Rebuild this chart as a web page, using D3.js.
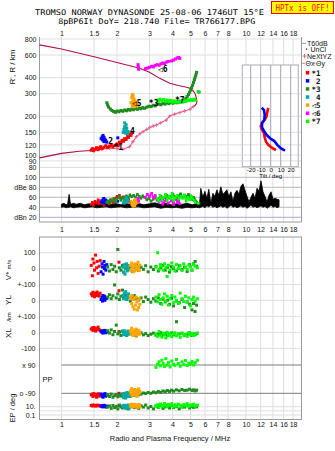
<!DOCTYPE html>
<html><head><meta charset="utf-8">
<script src="https://cdn.jsdelivr.net/npm/d3@7"></script>
<style>
body{margin:0;background:#fff}
svg{display:block}
</style></head><body>
<svg id="c" width="335" height="451"></svg>
<script>
// ---------------- DATA ----------------
const titleLine1 = "TROMSO NORWAY   DYNASONDE 25-08-06 1746UT 15°E";
const titleLine2 = "8pBP6It DoY= 218.740 File= TR766177.BPG";
const freqTicks = [1,1.5,2,3,4,5,6,7,8,10,12,14,16,18];
const heightTicks = [800,600,400,300,200,150,120,100,90,80];
const dbTicks = [100,80,60,40,20];
const dbTickLabels = ["100","dBe 80","60","40","dBn 20"];
const tiltTicks = [-20,-10,0,10,20];
const modeLabels = ["*1","2","*3","4","◁5","◁6","*7"];
const legendLabels = ["*1"," 2","*3"," 4","◁5","◁6","*7"];
const modeColors = ["#ff0000","#0000ff","#1e8c1e","#00a8a8","#ffa500","#ff00ff","#00ff00"];
const modeLabelFreq = [2.03,1.85,3.16,2.42,2.56,3.54,4.38];
const modeLabelHeight = [115,127,254,152,255,465,268];

// top panel echoes (frequency MHz, virtual height km, amplitude dB)
const m1Freq = [1.45,1.47,1.49,1.52,1.55,1.58,1.6,1.63,1.66,1.7,1.74,1.78,1.82,1.86,1.9,1.95,2.0,2.03,2.06,2.1,2.13,2.17,2.2,2.24,2.28,2.31,2.35,2.38,2.4];
const m1Height = [109,112,108,111,114,110,113,116,112,115,118,114,117,120,116,119,122,118,126,124,130,128,134,132,140,137,145,142,148];
const m1Amp = [46,50,44,52,48,55,47,53,50,44,49,52,47,55,50,58,62,60,64,57,59,61,55,58,54,56,52,50,49];
const m2Freq = [1.64,1.66,1.68,1.7,1.72,1.74,1.76,1.73,1.7,1.67,null,2.02];
const m2Height = [134,138,142,137,132,128,126,130,127,131,null,136];
const m2Amp = [50,54,57,52,48,55,50,53,58,49,null,52];
const m3Freq = [1.76,1.78,1.8,1.84,1.88,1.92,1.96,2.0,2.05,2.1,2.15,2.2,2.25,2.3,2.35,2.4,2.46,2.52,2.58,2.64,2.7,2.76,2.82,2.9,2.98,3.06,3.14,3.22,3.3,3.38,3.46,3.55,3.64,3.73,3.82,3.92,4.02,4.12,4.22,4.32,4.42,4.52,4.62,4.72,4.8,4.88,4.95,5.02,5.08,5.14,5.2,5.25,5.3,5.35,5.4,null,5.57];
const m3Height = [255,245,236,228,222,218,215,220,217,222,219,224,221,226,223,228,225,230,227,232,229,234,231,236,240,238,244,241,247,250,246,252,249,255,251,256,253,258,255,262,258,266,262,275,285,296,308,320,335,350,368,385,402,420,440,null,309];
const m3Amp = [50,53,48,55,52,58,50,56,62,54,60,57,63,59,65,61,64,60,66,62,58,63,60,55,58,52,56,60,54,58,62,57,60,64,59,62,66,61,58,63,67,60,64,58,62,66,60,63,59,55,60,57,54,52,50,null,48];
const m4Freq = [2.2,2.24,2.2,2.26,2.18,2.24,2.3,2.16,2.22,2.28];
const m4Height = [178,172,166,162,158,155,152,150,148,146];
const m4Amp = [50,55,48,58,52,60,54,49,56,51];
const m5Freq = [2.42,2.45,2.4,2.48,2.44,2.52,2.38,2.47,2.55,2.42,2.5,2.6];
const m5Height = [296,288,280,272,265,260,255,250,246,242,238,244];
const m5Amp = [44,50,46,54,42,48,52,45,56,47,43,50];
const m6Freq = [2.6,2.61,2.62,null,2.85,2.92,3.0,3.08,3.15,3.22,3.3,3.38,3.46,3.54,3.62,3.7,3.78,3.95,4.05,4.15,4.25,4.32,4.38];
const m6Height = [505,485,465,null,470,475,482,490,485,498,505,500,512,520,515,528,535,540,548,560,570,575,565];
const m6Amp = [55,58,52,null,60,66,62,68,58,64,55,50,58,46,52,57,48,54,45,59,50,56,47];
const m7Freq = [3.3,3.36,3.42,3.5,3.58,3.66,3.74,3.82,3.9,3.98,4.06,4.15,4.24,4.34,4.44,4.54,4.64,4.74,4.84,4.94,5.04,5.14,5.24,5.3,null,5.5];
const m7Height = [268,262,272,265,270,262,268,260,266,258,264,258,262,256,262,258,264,262,268,266,270,266,272,268,null,312];
const m7Amp = [58,52,64,55,60,66,54,62,57,68,53,60,64,56,62,58,65,52,60,55,62,57,54,50,null,48];

// profile curves
const topsideFreq = [0.76,1.0,1.5,2.0,2.65,3.0,3.41,3.86,4.3,4.7,4.97,5.15,5.3,5.39,5.42,5.38,5.28,5.17];
const topsideHeight = [720,668,582,525,473,440,395,362,348,338,331,318,300,276,262,250,242,238];
const bottomsideFreq = [0.76,1.0,1.25,1.51];
const bottomsideHeight = [95,103,107,109];
const nextyzFreq = [1.51,1.65,1.82,2.0,2.15,2.34,2.44,2.55,2.66,2.77,2.9,3.01,3.14,3.27,3.45,3.7,3.86,4.1,4.38,4.65,4.97,5.17];
const nextyzHeight = [108,111,113,112,111,116,127,139,146,152,158,164,168,171,178,187,201,208,214,220,227,238];

// tilt inset
const tiltXHeight = [233,217,201,190,179,168,159,148,137,127,120,114,109];
const tiltX = [-2.4,-3.4,-4,-5.7,-8.4,-10,-9,-6.7,-6,-4.7,-2.4,1,5.3];
const tiltYHeight = [233,224,206,187,177,164,154,143,135,129,120,113,108];
const tiltY = [-9,-6.7,-6,-6.4,-8.7,-8.7,-6.7,-4,-0.7,3.3,6.6,10,14.3];

// T60dB noise trace
const t60Freq = [1.0,1.03,1.06,1.08,1.1,1.12,1.16,1.2,1.27,1.33,1.4,1.47,1.55,1.65,1.75,1.85,1.95,2.1,2.25,2.4,2.6,2.8,3.0,3.2,3.45,3.7,3.95,4.2,4.5,4.8,5.1,5.4,5.6,
  5.69,5.84,5.99,6.14,6.29,6.45,6.62,6.78,6.96,7.13,7.31,7.5,7.69,7.88,8.08,8.29,8.5,8.71,8.94,9.16,9.39,9.63,9.88,10.13,10.38,10.65,10.92,11.19,11.48,11.77,12.06,12.37,12.68,13.0,13.34,13.67,14.02,14.38,14.74,15.11];
const t60Lo = [40,41,39,40,40,41,39,40,41,39,40,41,39,40,41,39,40,41,39,40,41,39,40,41,38,40,39,40,38,40,39,40,39,
  40,42,39,43,41,44,40,42,39,41,43,40,42,38,41,44,40,42,39,41,43,40,42,38,41,44,40,42,39,41,43,40,42,38,41,44,40,42,39,41];
const t60Hi = [46,48,45,47,66,46,48,46,48,45,47,46,48,45,47,46,48,45,47,46,48,45,47,49,46,48,45,47,46,48,45,47,46,
  78,60,72,58,76,48,68,62,75,64,81,66,70,75,62,71,52,68,74,66,82,87,74,62,51,60,68,58,78,72,93,71,62,51,64,71,56,58,56,55];

// lower panel: V* (m/s), YL (km), XL (km), PP (deg), EP (deg)
const m1BotFreq = [1.45,1.47,1.48,1.5,1.51,1.53,1.55,1.56,1.58,1.6,1.62,2.05];
const m1Vstar = [20,-45,60,35,-10,85,5,45,-30,15,50,40];
const m1YL = [40,28,50,35,22,45,30,52,38,26,44,60];
const m1XL = [20,28,12,30,22,8,25,16,32,18,10,5];
const m1PP = [-100,-95,-110,-92,-105,-98,-115,-100,-93,-108,-96,-90];
const m1EP = [20,15,25,18,22,14,19,24,16,21,17,18];
const m2BotFreq = [1.64,1.66,1.67,1.68,1.7,1.71,1.72,1.74,1.76];
const m2Vstar = [-20,30,10,-35,45,0,20,-10,25];
const m2YL = [5,20,-5,30,10,25,0,15,12];
const m2XL = [5,0,10,-5,8,2,12,-3,4];
const m2PP = [-95,-110,-100,-115,-98,-105,-92,-108,-100];
const m2EP = [12,18,9,15,22,11,16,8,14];
const m3BotFreq = [1.78,1.82,1.86,1.9,1.94,1.98,2.02,2.06,2.1,2.14,2.18,2.22,2.26,2.3,2.36,2.42,2.48,2.55,2.62,2.7,2.78,2.86,2.95,3.05,3.15,3.25,3.35,3.45,3.55,3.65,3.75,3.85,3.95,4.05,4.2,4.35,4.5,4.65,4.8,4.95,5.1,5.2,5.3,5.4];
const m3Vstar = [10,-15,25,-5,15,-20,120,5,-10,20,-25,0,15,-8,12,-18,5,22,-12,8,-5,18,-20,10,-6,14,-15,4,20,-10,8,-22,12,0,-14,18,-6,10,-18,25,-10,30,45,15];
const m3YL = [20,35,10,28,96,15,40,5,25,64,12,30,8,22,-5,18,30,10,2,15,-8,20,5,-12,10,-5,15,-20,8,-10,0,-25,12,-35,-5,-15,5,-45,-10,-25,-60,-20,-70,-30];
const m3XL = [10,-5,15,-15,5,45,-10,0,-20,8,-12,-5,-18,2,-8,-15,5,-22,-10,-3,-16,-8,-20,-12,-5,-18,-10,-2,-15,-8,-20,-12,-4,-16,66,-10,-6,-18,-12,-4,-20,-10,-15,-8];
const m3PP = [-100,-110,-95,-115,-105,-98,-112,-102,-108,-95,-118,-100,-106,-92,-110,-98,-104,-90,-100,-95,-88,-92,-85,-90,-82,-86,-78,-84,-75,-80,-72,-78,-70,-76,-68,-74,-66,-72,-70,-64,-72,-68,-75,-70];
const m3EP = [8,15,4,20,6,12,3,25,9,5,18,7,14,3,10,22,6,12,4,16,8,25,5,11,3,15,7,20,4,9,13,5,18,6,10,3,14,8,22,5,12,7,16,9];
const m4BotFreq = [2.15,2.17,2.19,2.21,2.23,2.25,2.27,2.29,2.31,2.33];
const m4Vstar = [10,-20,25,-35,5,30,-15,15,-5,20];
const m4YL = [30,10,45,20,54,5,35,15,40,25];
const m4XL = [5,-15,10,-8,0,-20,-5,8,-12,2];
const m4PP = [-95,-115,-90,-105,-120,-100,-85,-110,-98,-108];
const m4EP = [15,6,22,10,4,18,8,25,12,5];
const m5BotFreq = [2.36,2.38,2.4,2.42,2.44,2.46,2.48,2.5,2.52,2.54,2.56,2.58,2.6,2.62,2.64,2.66];
const m5Vstar = [20,-10,35,5,-20,25,10,-15,30,0,15,-5,40,10,-12,22];
const m5YL = [25,10,-20,30,-40,5,-55,15,-30,20,-10,-60,0,-45,12,-25];
const m5XL = [10,-5,25,-15,5,-20,15,-10,0,20,-18,8,-8,12,-12,2];
const m5PP = [-75,-95,-60,-105,-85,-70,-100,-65,-90,-80,-110,-72,-95,-62,-88,-78];
const m5EP = [30,12,40,18,8,25,35,10,20,15,28,6,22,14,32,9];
const m7BotFreq = [3.25,3.32,3.38,3.44,3.5,3.56,3.62,3.68,3.74,3.8,3.88,3.96,4.04,4.12,4.2,4.3,4.4,4.5,4.6,4.7,4.8,4.9,5.0,5.1,5.2,5.3,5.45];
const m7Vstar = [10,100,-5,25,15,-10,30,5,-50,20,-8,35,10,-15,25,0,18,-12,30,8,-5,22,12,-10,28,15,5];
const m7YL = [20,-10,35,5,-25,15,40,-5,25,-30,10,30,-15,20,0,-20,45,10,-8,25,-12,15,-35,5,20,-5,10];
const m7XL = [-10,-25,5,-18,-30,-5,-15,-35,0,-20,-8,-28,-12,-3,-22,-10,-32,-6,-18,-14,-25,-2,-16,-8,-20,-12,-4];
const m7PP = [75,95,110,85,120,100,80,130,90,105,78,115,95,88,125,100,82,110,92,118,86,102,96,112,90,104,120];
const m7EP = [15,30,8,45,20,12,60,25,10,35,18,50,9,28,14,40,22,7,32,16,55,11,26,19,38,13,24];

// ---------------- DRAW ----------------
const svg = d3.select("#c");
const SANS = "Liberation Sans, Arial, sans-serif";
const MONO = "DejaVu Sans Mono, monospace";
const X0 = 39.5, X1 = 301.5;
const x = d3.scaleLog().domain([0.76,20]).range([X0,X1]);
const yH = d3.scaleLog().domain([800,100]).range([39,155]);
const yDb = d3.scaleLinear().domain([100,20]).range([177.3,217.3]);
const yV = d3.scaleLinear().domain([100,-100]).range([252.7,284.5]);
const yYL = d3.scaleLinear().domain([100,-100]).range([284.3,316.3]);
const yXL = d3.scaleLinear().domain([100,-100]).range([316.3,348.3]);
const yPP = d3.scaleLinear().domain([90,-90]).range([365,393.3]);
const yEP = d3.scaleLog().domain([10,0.1]).range([406.7,415]);
const xT = d3.scaleLinear().domain([-28.4,27.6]).range([242.3,298.3]);

const TOP0 = 37, TOP1 = 222, BOT0 = 237, BOT1 = 419.5;

// grids
const grid = svg.append("g").attr("stroke","#dedede").attr("stroke-width",1);
grid.selectAll(null).data(freqTicks).join("line")
  .attr("x1",d=>x(d)).attr("x2",d=>x(d)).attr("y1",TOP0).attr("y2",TOP1);
grid.selectAll(null).data(freqTicks).join("line")
  .attr("x1",d=>x(d)).attr("x2",d=>x(d)).attr("y1",BOT0).attr("y2",BOT1);
grid.selectAll(null).data(heightTicks).join("line")
  .attr("x1",X0).attr("x2",X1).attr("y1",d=>yH(d)).attr("y2",d=>yH(d));
svg.append("g").selectAll(null).data(dbTicks).join("line")
  .attr("x1",X0).attr("x2",X1).attr("y1",d=>yDb(d)).attr("y2",d=>yDb(d))
  .attr("stroke",d=>d===20?"#a9a9dc":"#b9b9b9");
const lg = svg.append("g").attr("stroke","#dedede");
[[yV,[100,0,-100]],[yYL,[0,-100]],[yXL,[0,-100]],[yEP,[10,1,0.1]]].forEach(([s,vals])=>{
  lg.selectAll(null).data(vals).join("line").attr("x1",X0).attr("x2",X1)
    .attr("y1",d=>s(d)).attr("y2",d=>s(d));
});
svg.append("g").selectAll(null).data([90,-90]).join("line")
  .attr("x1",x(1)).attr("x2",X1).attr("y1",d=>yPP(d)).attr("y2",d=>yPP(d))
  .attr("stroke","#7a7a7a");

// frames
svg.append("path").attr("d",`M${X0},${TOP0}V${TOP1}H${X1}V${TOP0}`).attr("fill","none").attr("stroke","#9a9a9a");
svg.append("rect").attr("x",X0).attr("y",BOT0).attr("width",X1-X0).attr("height",BOT1-BOT0)
  .attr("fill","none").attr("stroke","#9a9a9a");

// axes
function styleAxis(g){ g.select(".domain").remove(); g.attr("font-size",7).attr("font-family",SANS); g.selectAll("text").attr("fill","#111"); }
const fmtF = d=>String(d);
svg.append("g").attr("transform",`translate(0,${TOP0})`)
  .call(d3.axisTop(x).tickValues(freqTicks).tickSize(0).tickPadding(1.2).tickFormat(fmtF)).call(styleAxis);
svg.append("g").attr("transform",`translate(0,${TOP1})`)
  .call(d3.axisBottom(x).tickValues(freqTicks).tickSize(0).tickPadding(5).tickFormat(fmtF)).call(styleAxis);
svg.append("g").attr("transform",`translate(0,${BOT1})`)
  .call(d3.axisBottom(x).tickValues(freqTicks).tickSize(0).tickPadding(3).tickFormat(fmtF)).call(styleAxis);
svg.append("g").attr("transform",`translate(${X0},0)`)
  .call(d3.axisLeft(yH).tickValues(heightTicks).tickSize(0).tickPadding(3).tickFormat(fmtF)).call(styleAxis);
svg.append("g").attr("transform",`translate(${X0},0)`)
  .call(d3.axisLeft(yDb).tickValues(dbTicks).tickSize(0).tickPadding(3).tickFormat((d,i)=>dbTickLabels[i])).call(styleAxis);
svg.append("g").attr("transform",`translate(${X0},0)`)
  .call(d3.axisLeft(yV).tickValues([100,0,-100]).tickSize(0).tickPadding(4).tickFormat(d=>d===-100?"+-100":String(d))).call(styleAxis);
svg.append("g").attr("transform",`translate(${X0},0)`)
  .call(d3.axisLeft(yYL).tickValues([0,-100]).tickSize(0).tickPadding(4).tickFormat(d=>d===-100?"+-100":String(d))).call(styleAxis);
svg.append("g").attr("transform",`translate(${X0},0)`)
  .call(d3.axisLeft(yXL).tickValues([0,-100]).tickSize(0).tickPadding(4).tickFormat(String)).call(styleAxis);
svg.append("g").attr("transform",`translate(${X0},0)`)
  .call(d3.axisLeft(yPP).tickValues([90,-90]).tickSize(0).tickPadding(4).tickFormat(d=>d>0?"x  90":"o  -90")).call(styleAxis);
svg.append("g").attr("transform",`translate(${X0},0)`)
  .call(d3.axisLeft(yEP).tickValues([10,0.1]).tickSize(0).tickPadding(4).tickFormat(d=>d===10?"10.":"0.1")).call(styleAxis);

// axis titles
function vtext(tx,ty,txt,size){ return svg.append("text").attr("transform",`translate(${tx},${ty}) rotate(-90)`)
  .attr("text-anchor","middle").attr("font-family",SANS).attr("font-size",size).attr("fill","#111").text(txt); }
vtext(15,67,"R', R / km",8);
const vs = svg.append("text").attr("transform","translate(11,270) rotate(-90)").attr("text-anchor","middle").attr("font-family",SANS).attr("fill","#111");
vs.append("tspan").attr("font-size",8).text("V* ");
vs.append("tspan").attr("font-size",6).text("m/s");
vtext(11,300,"YL",8);
vtext(11,317,"/km",6);
vtext(11,333,"XL",8);
vtext(15,408,"EP / deg",7.5);
svg.append("text").attr("x",42.5).attr("y",382).attr("font-family",SANS).attr("font-size",7.5).attr("fill","#111").text("PP");
svg.append("text").attr("x",170).attr("y",440.5).attr("text-anchor","middle").attr("font-family",SANS).attr("font-size",7.5).attr("fill","#111").text("Radio and Plasma Frequency / MHz");

// title
svg.append("text").attr("x",149.5).attr("y",14.8).attr("text-anchor","middle").attr("font-family",MONO).attr("font-size",7.8)
  .attr("textLength",229).attr("lengthAdjust","spacingAndGlyphs").text(titleLine1);
svg.append("text").attr("x",156.7).attr("y",23.6).attr("text-anchor","middle").attr("font-family",MONO).attr("font-size",7.8)
  .attr("textLength",197).attr("lengthAdjust","spacingAndGlyphs").text(titleLine2);
svg.append("rect").attr("x",271.5).attr("y",1.5).attr("width",62).attr("height",12).attr("fill","#ffff00").attr("stroke","#ff0000");
svg.append("text").attr("x",302.5).attr("y",10.6).attr("text-anchor","middle").attr("font-family",MONO).attr("font-size",8)
  .attr("fill","#ff0000").attr("textLength",54).attr("lengthAdjust","spacingAndGlyphs").text("HPTx is OFF!");

// tilt inset
const inset = svg.append("g");
inset.append("rect").attr("x",xT.range()[0]).attr("y",65).attr("width",xT.range()[1]-xT.range()[0]).attr("height",101.7)
  .attr("fill","#fff").attr("stroke","#aaaab4");
inset.selectAll(null).data(heightTicks.filter(h=>yH(h)>65&&yH(h)<166)).join("line")
  .attr("x1",xT.range()[0]).attr("x2",xT.range()[1]).attr("y1",d=>yH(d)).attr("y2",d=>yH(d)).attr("stroke","#dedede");
inset.selectAll(null).data(tiltTicks).join("line")
  .attr("x1",d=>xT(d)).attr("x2",d=>xT(d)).attr("y1",65).attr("y2",166.7).attr("stroke","#a4a4b4");
const tAx = svg.append("g").attr("transform","translate(0,166.7)")
  .call(d3.axisBottom(xT).tickValues(tiltTicks).tickSize(0).tickPadding(1).tickFormat(String));
tAx.select(".domain").remove(); tAx.attr("font-size",6).attr("font-family",SANS);
svg.append("text").attr("x",270.7).attr("y",178).attr("text-anchor","middle").attr("font-family",SANS).attr("font-size",6).text("Tilt / deg");
const tline = d3.line().x(d=>xT(d[0])).y(d=>yH(d[1]));
inset.append("path").datum(d3.zip(tiltX,tiltXHeight)).attr("d",tline).attr("fill","none").attr("stroke","#ff0000").attr("stroke-width",2.6);
inset.append("path").datum(d3.zip(tiltY,tiltYHeight)).attr("d",tline).attr("fill","none").attr("stroke","#0000ff").attr("stroke-width",2.6);

// profile curves
const hline = d3.line().x(d=>x(d[0])).y(d=>yH(d[1]));
svg.append("path").datum(d3.zip(topsideFreq,topsideHeight)).attr("d",hline).attr("fill","none").attr("stroke","#b01040").attr("stroke-width",1.1);
svg.append("path").datum(d3.zip(bottomsideFreq,bottomsideHeight)).attr("d",hline).attr("fill","none").attr("stroke","#b01040").attr("stroke-width",1.1);
svg.append("path").datum(d3.zip(nextyzFreq,nextyzHeight)).attr("d",hline).attr("fill","none").attr("stroke","#e0608c").attr("stroke-width",1.1);
svg.append("g").selectAll(null).data(d3.zip(nextyzFreq,nextyzHeight)).join("path")
  .attr("d",d=>{const px=x(d[0]),py=yH(d[1]);return `M${px-1.8},${py}H${px+1.8}M${px},${py-1.8}V${py+1.8}`;})
  .attr("stroke","#e0608c").attr("stroke-width",0.9);

// echoes
const modeFreq=[m1Freq,m2Freq,m3Freq,m4Freq,m5Freq,m6Freq,m7Freq];
const modeHeight=[m1Height,m2Height,m3Height,m4Height,m5Height,m6Height,m7Height];
const modeAmp=[m1Amp,m2Amp,m3Amp,m4Amp,m5Amp,m6Amp,m7Amp];
function drawTrace(g, fs, vs, yS, color, size, lw){
  const pts = d3.zip(fs, vs);
  if (lw>0) g.append("path").datum(pts).attr("fill","none").attr("stroke",color).attr("stroke-width",lw)
    .attr("stroke-linejoin","round")
    .attr("d", d3.line().defined(d=>d[0]!=null&&d[1]!=null).x(d=>x(d[0])).y(d=>yS(d[1])));
  g.selectAll(null).data(pts.filter(d=>d[0]!=null&&d[1]!=null)).join("rect")
    .attr("x",d=>x(d[0])-size/2).attr("y",d=>yS(d[1])-size/2).attr("width",size).attr("height",size).attr("fill",color);
}
// T60 noise
svg.append("path").datum(d3.range(t60Freq.length))
  .attr("d",d3.area().x(i=>x(t60Freq[i])).y0(i=>yDb(t60Lo[i])).y1(i=>yDb(t60Hi[i])))
  .attr("fill","#000").attr("stroke","#000").attr("stroke-width",0.8);

const eg = svg.append("g");
modeFreq.forEach((fs,i)=>{
  drawTrace(eg, fs, modeHeight[i], yH, modeColors[i], 3, 2);
  drawTrace(eg, fs, modeAmp[i], yDb, modeColors[i], 2.6, 1.6);
});
svg.append("g").selectAll(null).data(modeLabels).join("text")
  .attr("x",(d,i)=>x(modeLabelFreq[i])).attr("y",(d,i)=>yH(modeLabelHeight[i])+2.8)
  .attr("text-anchor","middle").attr("font-family",MONO).attr("font-size",8).attr("font-weight","bold").attr("fill","#000").text(d=>d);

// lower panel
const botFreq=[m1BotFreq,m2BotFreq,m3BotFreq,m4BotFreq,m5BotFreq,null,m7BotFreq];
const botSets=[[m1Vstar,m1YL,m1XL,m1PP,m1EP],[m2Vstar,m2YL,m2XL,m2PP,m2EP],[m3Vstar,m3YL,m3XL,m3PP,m3EP],
  [m4Vstar,m4YL,m4XL,m4PP,m4EP],[m5Vstar,m5YL,m5XL,m5PP,m5EP],null,[m7Vstar,m7YL,m7XL,m7PP,m7EP]];
const botScales=[yV,yYL,yXL,yPP,yEP];
const bg = svg.append("g");
botFreq.forEach((fs,i)=>{
  if(!fs) return;
  botSets[i].forEach((vals,k)=> drawTrace(bg, fs, vals, botScales[k], modeColors[i], 3, 0));
});

// legend
const lgd = svg.append("g").attr("font-family",SANS).attr("font-size",7).attr("fill","#111");
lgd.append("line").attr("x1",301.5).attr("x2",306).attr("y1",43.3).attr("y2",43.3).attr("stroke","#999");
lgd.append("text").attr("x",307).attr("y",45.8).text("T60dB");
lgd.append("rect").attr("x",306).attr("y",48.5).attr("width",1.2).attr("height",1.2).attr("fill","#000");
lgd.append("text").attr("x",310.5).attr("y",51.8).text("UnCl");
lgd.append("path").attr("d","M302.5,56H306.5M304.5,54V58").attr("stroke","#e0608c");
lgd.append("text").attr("x",307).attr("y",58.7).text("NeXtYZ");
lgd.append("line").attr("x1",301.5).attr("x2",305).attr("y1",63.3).attr("y2",63.3).attr("stroke","#e08080");
lgd.append("text").attr("x",305.5).attr("y",66).text("Θx");
lgd.append("line").attr("x1",312).attr("x2",315.5).attr("y1",63.3).attr("y2",63.3).attr("stroke","#8080e0");
lgd.append("text").attr("x",316).attr("y",66).text("Θy");
lgd.selectAll(null).data(legendLabels).join("rect")
  .attr("x",305.8).attr("y",(d,i)=>71+i*8.1).attr("width",3.5).attr("height",3.5).attr("fill",(d,i)=>modeColors[i]);
lgd.selectAll(null).data(legendLabels).join("text")
  .attr("x",311.5).attr("y",(d,i)=>75.5+i*8.1).attr("font-family",MONO).attr("font-size",7.5).attr("font-weight","bold")
  .style("white-space","pre").text(d=>d);
</script>
</body></html>
